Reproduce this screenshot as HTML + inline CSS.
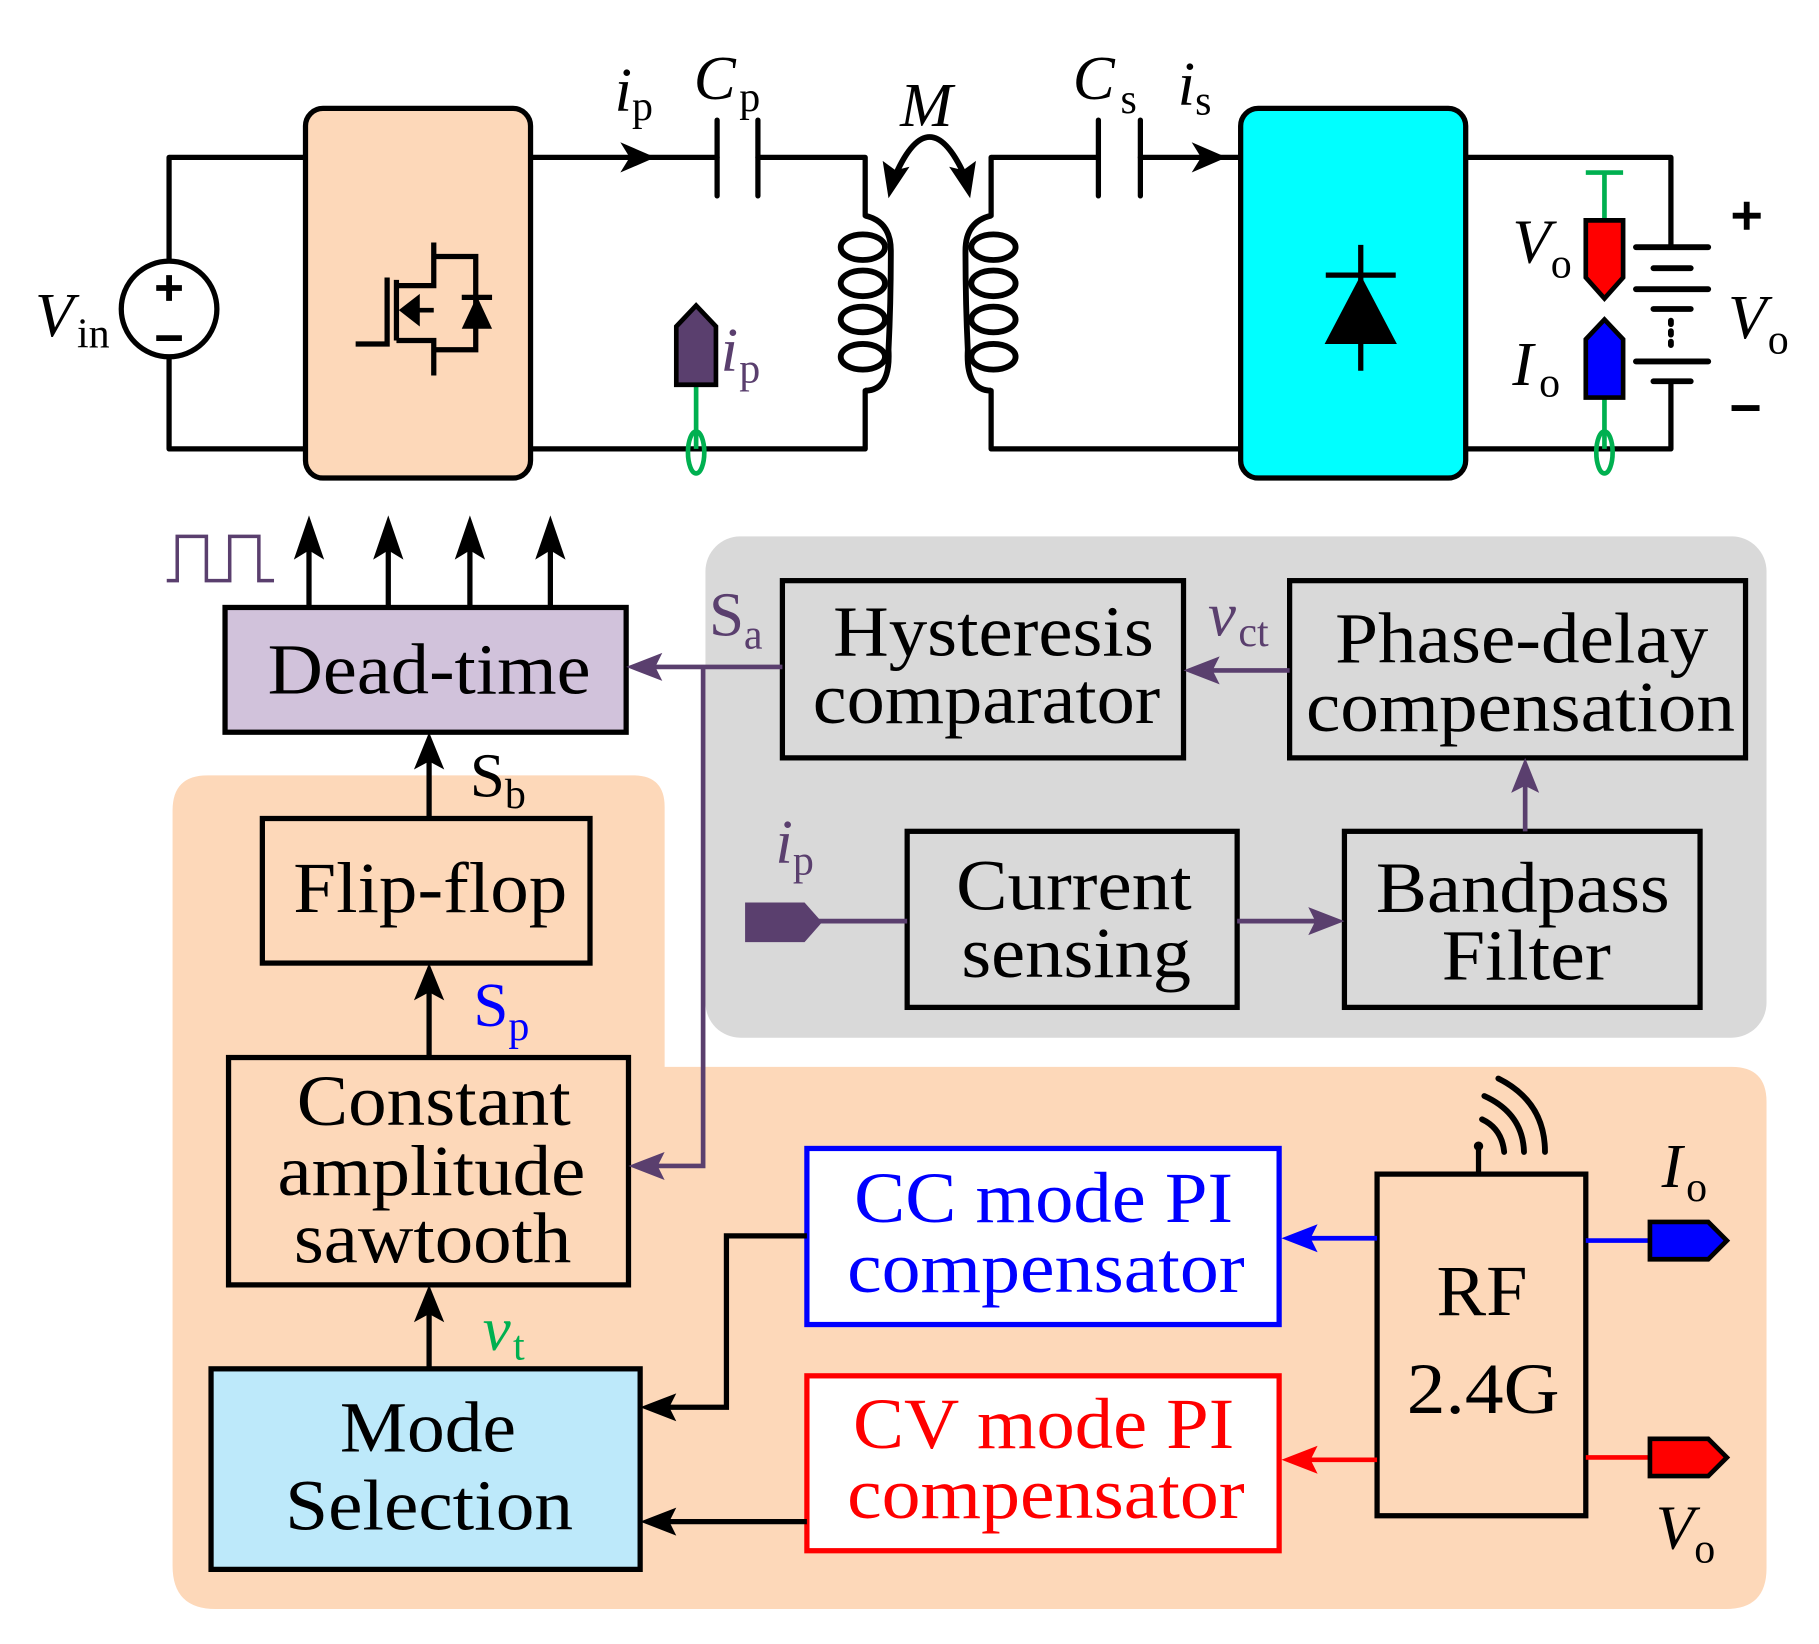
<!DOCTYPE html>
<html><head><meta charset="utf-8"><style>
html,body{margin:0;padding:0;background:#fff}
svg{display:block}
svg text{font-family:"Liberation Serif","Times New Roman",serif}
</style></head><body>
<svg width="1819" height="1644" viewBox="0 0 1560 1410" preserveAspectRatio="none" xmlns="http://www.w3.org/2000/svg" font-family="'Liberation Serif','Times New Roman',serif">
<rect width="1560" height="1410" fill="#fff"/>
<rect x="605" y="460" width="910" height="430" rx="30" fill="#D9D9D9"/>
<path d="M178 665 H543 Q570 665 570 692 V915 H1485 Q1515 915 1515 945 V1345 Q1515 1380 1480 1380 H185 Q148 1380 148 1343 V695 Q148 665 178 665 Z" fill="#FDD8B9"/>

<g fill="none" stroke="#000" stroke-width="4.5" stroke-linecap="round" stroke-linejoin="round">
<path d="M262 135 H145 V223 M145 307 V385 H262"/>
<path d="M455 135 H615 M650 135 H742 V185"/>
<path d="M615 103 V168 M650 103 V168"/>
<path d="M742 335 V385 H455"/>
<path d="M850 185 V135 H942 M978 135 H1064"/>
<path d="M942 103 V168 M978 103 V168"/>
<path d="M850 335 V385 H1064"/>
<path d="M1257 135 H1433 V212 M1433 327 V385 H1257"/>
</g>
<circle cx="145" cy="265" r="41" fill="#fff" stroke="#000" stroke-width="4.5"/>
<path d="M145 236 V258 M134 247 H156 M134 290 H156" stroke="#000" stroke-width="5"/>
<g fill="none" stroke="#000" stroke-width="5">
<path d="M742 185 Q764 190 764 215 Q764 260 762 300 Q764 335 742 335"/>
<ellipse cx="740" cy="212" rx="19" ry="11"/>
<ellipse cx="740" cy="243" rx="19" ry="11"/>
<ellipse cx="740" cy="274" rx="19" ry="11"/>
<ellipse cx="740" cy="306" rx="19" ry="11"/>
<path d="M850 185 Q828 190 828 215 Q828 260 830 300 Q828 335 850 335"/>
<ellipse cx="852" cy="212" rx="19" ry="11"/>
<ellipse cx="852" cy="243" rx="19" ry="11"/>
<ellipse cx="852" cy="274" rx="19" ry="11"/>
<ellipse cx="852" cy="306" rx="19" ry="11"/>
<path d="M768 150 Q797 85 827 150"/>
</g>
<polygon points="762,170 757,138 768,146 780,143" fill="#000"/>
<polygon points="832,170 837,138 826,146 814,143" fill="#000"/>
<polygon points="562,135 532,122 540,135 532,148" fill="#000"/>
<polygon points="1052,135 1022,122 1030,135 1022,148" fill="#000"/>
<rect x="262" y="93" width="193" height="317" rx="15" fill="#FDD8B9" stroke="#000" stroke-width="4.5"/>
<g fill="none" stroke="#000" stroke-width="4.5">
<path d="M305 295 H332 V238 M340 240 V292 M340 245 H372 V208 M340 292 H372 V322 M372 220 H408 V300 H372 M396 255 H422"/>
</g>
<polygon points="342,266 360,252 360,280" fill="#000"/>
<polygon points="396,282 422,282 409,254" fill="#000"/>
<line x1="347" y1="266" x2="372" y2="266" stroke="#000" stroke-width="4"/>
<rect x="1064" y="93" width="193" height="317" rx="15" fill="#00FFFF" stroke="#000" stroke-width="4.5"/>
<path d="M1167 210 V318 M1137 236 H1197" stroke="#000" stroke-width="4.5"/>
<polygon points="1167,236 1136,295 1198,295" fill="#000"/>
<g stroke="#000" stroke-width="5" stroke-linecap="round">
<path d="M1403 212 H1465 M1418 230 H1450 M1403 248 H1465 M1418 265 H1450 M1403 310 H1465 M1418 327 H1450"/>
</g>
<path d="M1433 275 V301" stroke="#000" stroke-width="5" stroke-dasharray="3 6" stroke-linecap="round"/>
<path d="M1486 185 H1510 M1498 173 V197" stroke="#000" stroke-width="5"/>
<path d="M1485 350 H1509" stroke="#000" stroke-width="5"/>
<g stroke="#00B050" stroke-width="4" fill="none">
<path d="M1360 148 H1392 M1376 148 V189"/>
<path d="M1376 341 V385"/>
<ellipse cx="1376" cy="388" rx="7" ry="18"/>
<path d="M597 330 V385"/>
<ellipse cx="597" cy="388" rx="7" ry="18"/>
</g>
<polygon points="1360,189 1392,189 1392,238 1376,256 1360,238" fill="#FF0000" stroke="#000" stroke-width="4"/>
<polygon points="1360,341 1392,341 1392,291 1376,274 1360,291" fill="#0000FF" stroke="#000" stroke-width="4"/>
<polygon points="580,330 614,330 614,280 597,262 580,280" fill="#5A3F6E" stroke="#000" stroke-width="4"/>
<g font-size="54">
<text x="30" y="288" font-style="italic">V</text><text x="66" y="298" font-size="36">in</text>
<text x="527" y="95" font-style="italic">i</text><text x="542" y="103" font-size="36">p</text>
<text x="595" y="85" font-style="italic">C</text><text x="634" y="95" font-size="36">p</text>
<text x="772" y="108" font-style="italic">M</text>
<text x="920" y="85" font-style="italic">C</text><text x="961" y="97" font-size="36">s</text>
<text x="1010" y="90" font-style="italic">i</text><text x="1025" y="98" font-size="36">s</text>
<text x="618" y="318" font-style="italic" fill="#5A3F6E">i</text><text x="634" y="328" font-size="36" fill="#5A3F6E">p</text>
<text x="1297" y="225" font-style="italic">V</text><text x="1330" y="238" font-size="36">o</text>
<text x="1297" y="330" font-style="italic">I</text><text x="1320" y="340" font-size="36">o</text>
<text x="1482" y="290" font-style="italic">V</text><text x="1516" y="303" font-size="36">o</text>
</g>

<path d="M143 498 H152 V460 H177 V498 H197 V460 H222 V498 H235" fill="none" stroke="#5A3F6E" stroke-width="3"/>
<g stroke="#000" stroke-width="4.5">
<path d="M265 521 V455 M333 521 V455 M403 521 V455 M472 521 V455"/>
<path d="M368 702 V650 M368 907 V850 M368 1174 V1125"/>
</g>
<g fill="#000">
<polygon points="265,442 252,480 265,472 278,480"/>
<polygon points="333,442 320,480 333,472 346,480"/>
<polygon points="403,442 390,480 403,472 416,480"/>
<polygon points="472,442 459,480 472,472 485,480"/>
<polygon points="368,628 355,660 368,653 381,660"/>
<polygon points="368,826 355,858 368,851 381,858"/>
<polygon points="368,1102 355,1134 368,1127 381,1134"/>
</g>
<g stroke="#000" stroke-width="4.5">
<rect x="193" y="521" width="344" height="107" fill="#D1C2DB"/>
<rect x="671" y="498" width="344" height="152" fill="#D9D9D9"/>
<rect x="1106" y="498" width="391" height="152" fill="#D9D9D9"/>
<rect x="778" y="713" width="283" height="151" fill="#D9D9D9"/>
<rect x="1153" y="713" width="305" height="151" fill="#D9D9D9"/>
<rect x="225" y="702" width="281" height="124" fill="#FDD8B9"/>
<rect x="196" y="907" width="343" height="195" fill="#FDD8B9"/>
<rect x="181" y="1174" width="368" height="172" fill="#BDE9FA"/>
<rect x="1181" y="1007" width="179" height="293" fill="#FDD8B9"/>
</g>
<rect x="692" y="985" width="405" height="151" fill="#fff" stroke="#0000FF" stroke-width="4.5"/>
<rect x="692" y="1180" width="405" height="150" fill="#fff" stroke="#FF0000" stroke-width="4.5"/>
<g stroke="#5A3F6E" stroke-width="4" fill="none">
<path d="M671 572 H555 M603 572 V1000 H560"/>
<path d="M1106 575 H1035"/>
<path d="M1308 713 V670"/>
<path d="M1061 790 H1130"/>
<path d="M700 790 H778"/>
</g>
<g fill="#5A3F6E">
<polygon points="537,572 568,560 562,572 568,584"/>
<polygon points="539,1000 570,988 564,1000 570,1012"/>
<polygon points="1015,575 1046,563 1040,575 1046,587"/>
<polygon points="1308,650 1296,680 1308,674 1320,680"/>
<polygon points="1153,790 1122,778 1128,790 1122,802"/>
<polygon points="639,774 690,774 705,791 690,808 639,808"/>
</g>
<g stroke="#000" stroke-width="4.5" fill="none">
<path d="M692 1060 H623 V1207 H570"/>
<path d="M692 1305 H570"/>
<path d="M1268 1007 V985"/>
</g>
<polygon points="549,1207 580,1195 574,1207 580,1219" fill="#000"/>
<polygon points="549,1305 580,1293 574,1305 580,1317" fill="#000"/>
<circle cx="1268" cy="983" r="4" fill="#000"/>
<g stroke="#000" stroke-width="5" fill="none" stroke-linecap="round">
<path d="M1271 960 Q1288 968 1290 988"/>
<path d="M1273 940 Q1306 955 1307 988"/>
<path d="M1285 925 Q1325 945 1325 988"/>
</g>
<path d="M1181 1062 H1120" stroke="#0000FF" stroke-width="4"/>
<polygon points="1099,1062 1130,1050 1124,1062 1130,1074" fill="#0000FF"/>
<path d="M1181 1252 H1120" stroke="#FF0000" stroke-width="4"/>
<polygon points="1099,1252 1130,1240 1124,1252 1130,1264" fill="#FF0000"/>
<path d="M1360 1064 H1415" stroke="#0000FF" stroke-width="4"/>
<polygon points="1415,1048 1465,1048 1481,1064 1465,1080 1415,1080" fill="#0000FF" stroke="#000" stroke-width="4"/>
<path d="M1360 1250 H1415" stroke="#FF0000" stroke-width="4"/>
<polygon points="1415,1234 1465,1234 1481,1250 1465,1266 1415,1266" fill="#FF0000" stroke="#000" stroke-width="4"/>

<g font-size="62" text-anchor="middle">
<text x="368" y="595" textLength="277" lengthAdjust="spacingAndGlyphs">Dead-time</text>
<text x="852" y="562" textLength="275" lengthAdjust="spacingAndGlyphs">Hysteresis</text>
<text x="846" y="620" textLength="298" lengthAdjust="spacingAndGlyphs">comparator</text>
<text x="1305" y="568" textLength="320" lengthAdjust="spacingAndGlyphs">Phase-delay</text>
<text x="1304" y="627" textLength="368" lengthAdjust="spacingAndGlyphs">compensation</text>
<text x="921" y="780" textLength="202" lengthAdjust="spacingAndGlyphs">Current</text>
<text x="923" y="838" textLength="197" lengthAdjust="spacingAndGlyphs">sensing</text>
<text x="1306" y="782" textLength="252" lengthAdjust="spacingAndGlyphs">Bandpass</text>
<text x="1309" y="840" textLength="145" lengthAdjust="spacingAndGlyphs">Filter</text>
<text x="369" y="782" textLength="235" lengthAdjust="spacingAndGlyphs">Flip-flop</text>
<text x="372" y="965" textLength="235" lengthAdjust="spacingAndGlyphs">Constant</text>
<text x="370" y="1025" textLength="264" lengthAdjust="spacingAndGlyphs">amplitude</text>
<text x="371" y="1083" textLength="238" lengthAdjust="spacingAndGlyphs">sawtooth</text>
<text x="367" y="1245" textLength="151" lengthAdjust="spacingAndGlyphs">Mode</text>
<text x="368" y="1312" textLength="247" lengthAdjust="spacingAndGlyphs">Selection</text>
<text x="895" y="1048" fill="#0000FF" textLength="325" lengthAdjust="spacingAndGlyphs">CC mode PI</text>
<text x="897" y="1108" fill="#0000FF" textLength="341" lengthAdjust="spacingAndGlyphs">compensator</text>
<text x="895" y="1242" fill="#FF0000" textLength="327" lengthAdjust="spacingAndGlyphs">CV mode PI</text>
<text x="897" y="1302" fill="#FF0000" textLength="341" lengthAdjust="spacingAndGlyphs">compensator</text>
<text x="1271" y="1128" textLength="78" lengthAdjust="spacingAndGlyphs">RF</text>
<text x="1272" y="1212" textLength="131" lengthAdjust="spacingAndGlyphs">2.4G</text>
</g>
<g font-size="54">
<text x="608" y="545" fill="#5A3F6E">S</text><text x="638" y="556" font-size="36" fill="#5A3F6E">a</text>
<text x="1036" y="545" font-style="italic" fill="#5A3F6E">v</text><text x="1062" y="554" font-size="36" fill="#5A3F6E">ct</text>
<text x="665" y="740" font-style="italic" fill="#5A3F6E">i</text><text x="680" y="750" font-size="36" fill="#5A3F6E">p</text>
<text x="403" y="683">S</text><text x="433" y="693" font-size="36">b</text>
<text x="406" y="880" fill="#0000FF">S</text><text x="436" y="892" font-size="36" fill="#0000FF">p</text>
<text x="414" y="1158" font-style="italic" fill="#00B050">v</text><text x="440" y="1166" font-size="36" fill="#00B050">t</text>
<text x="1425" y="1018" font-style="italic">I</text><text x="1446" y="1030" font-size="36">o</text>
<text x="1420" y="1328" font-style="italic">V</text><text x="1453" y="1340" font-size="36">o</text>
</g>
</svg>
</body></html>
